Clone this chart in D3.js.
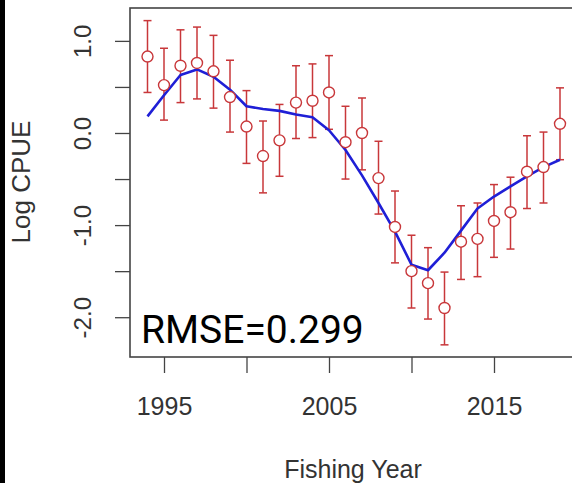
<!DOCTYPE html>
<html>
<head>
<meta charset="utf-8">
<script src="https://cdn.jsdelivr.net/npm/d3@7/dist/d3.min.js"></script>
<style>
  html, body { margin: 0; padding: 0; background: #fff; overflow: hidden; }
  svg { display: block; }
</style>
</head>
<body>
<script>
const years = [1994,1995,1996,1997,1998,1999,2000,2001,2002,2003,2004,2005,2006,2007,2008,2009,2010,2011,2012,2013,2014,2015,2016,2017,2018,2019];
const observed = [0.83,0.52,0.73,0.76,0.67,0.39,0.07,-0.25,-0.08,0.33,0.35,0.44,-0.10,0.00,-0.49,-1.02,-1.50,-1.63,-1.90,-1.18,-1.15,-0.955,-0.86,-0.42,-0.37,0.10];
const lower = [0.44,0.14,0.33,0.37,0.27,0.01,-0.33,-0.65,-0.47,-0.06,-0.05,0.04,-0.50,-0.40,-0.88,-1.41,-1.90,-2.02,-2.30,-1.59,-1.56,-1.35,-1.26,-0.82,-0.76,-0.29];
const upper = [1.22,0.92,1.12,1.15,1.06,0.79,0.46,0.13,0.31,0.73,0.75,0.84,0.29,0.38,-0.09,-0.63,-1.11,-1.245,-1.51,-0.79,-0.76,-0.56,-0.48,-0.03,0.01,0.49];
const fitted = [0.18,0.41,0.63,0.69,0.61,0.47,0.29,0.26,0.24,0.20,0.17,0.03,-0.185,-0.46,-0.76,-1.07,-1.43,-1.49,-1.30,-1.06,-0.82,-0.69,-0.58,-0.47,-0.37,-0.29];
const xTicks = [1995,2000,2005,2010,2015];
const xTickLabels = ["1995","","2005","","2015"];
const yTicks = [-2.0,-1.5,-1.0,-0.5,0.0,0.5,1.0];
const yTickLabels = ["-2.0","","-1.0","","0.0","","1.0"];
const rmseText = "RMSE=0.299";

const W = 572, H = 483;
const svg = d3.select("body").append("svg").attr("width", W).attr("height", H);

// black strip at left edge of the image
svg.append("rect").attr("x", 0).attr("y", 0).attr("width", 5).attr("height", H).attr("fill", "#000");

const plot = {left: 130, right: 577, top: 8, bottom: 357};
const x = d3.scaleLinear().domain([1993, 2020]).range([131, 576.5]);
const y = d3.scaleLinear().domain([-2.432, 1.357]).range([plot.bottom, plot.top]);

const axisColor = "#444";
const textColor = "#333";
const font = "'Liberation Sans', Arial, sans-serif";

// x axis
const xAxis = d3.axisBottom(x).tickValues(xTicks).tickSize(16).tickPadding(22)
  .tickFormat((d, i) => xTickLabels[i]);
const gx = svg.append("g").attr("transform", `translate(0,${plot.bottom})`).call(xAxis);
gx.select(".domain").remove();
gx.selectAll(".tick line").attr("stroke", axisColor).attr("stroke-width", 1.3);
gx.selectAll(".tick text").attr("fill", textColor).attr("font-family", font).attr("font-size", 25)
  .attr("dy", null).attr("y", 58);

// y axis
const yAxis = d3.axisLeft(y).tickValues(yTicks).tickSize(15).tickFormat((d, i) => yTickLabels[i]);
const gy = svg.append("g").attr("transform", `translate(${plot.left},0)`).call(yAxis);
gy.select(".domain").remove();
gy.selectAll(".tick line").attr("stroke", axisColor).attr("stroke-width", 1.3);
gy.selectAll(".tick text")
  .attr("fill", textColor).attr("font-family", font).attr("font-size", 24)
  .attr("x", null).attr("dy", null)
  .attr("text-anchor", "middle")
  .attr("transform", "translate(-39,0) rotate(-90)");

// plot box
svg.append("rect")
  .attr("x", plot.left).attr("y", plot.top)
  .attr("width", plot.right - plot.left).attr("height", plot.bottom - plot.top)
  .attr("fill", "none").attr("stroke", axisColor).attr("stroke-width", 1.6);

// axis titles
svg.append("text").attr("x", 353).attr("y", 478).attr("text-anchor", "middle")
  .attr("font-family", font).attr("font-size", 25).attr("fill", textColor).text("Fishing Year");
svg.append("text").attr("transform", "translate(30,182) rotate(-90)").attr("text-anchor", "middle")
  .attr("font-family", font).attr("font-size", 26).attr("fill", textColor).text("Log CPUE");

const data = years.map((yr, i) => ({yr, obs: observed[i], lo: lower[i], hi: upper[i], fit: fitted[i]}));
const red = "#c8373a";

// error bars
const eb = svg.append("g").attr("stroke", red).attr("stroke-width", 1.5).attr("fill", "none");
eb.selectAll("line.v").data(data).join("line").attr("class", "v")
  .attr("x1", d => x(d.yr)).attr("x2", d => x(d.yr))
  .attr("y1", d => y(d.lo)).attr("y2", d => y(d.hi));
eb.selectAll("line.t").data(data).join("line").attr("class", "t")
  .attr("x1", d => x(d.yr) - 4).attr("x2", d => x(d.yr) + 4)
  .attr("y1", d => y(d.hi)).attr("y2", d => y(d.hi));
eb.selectAll("line.b").data(data).join("line").attr("class", "b")
  .attr("x1", d => x(d.yr) - 4).attr("x2", d => x(d.yr) + 4)
  .attr("y1", d => y(d.lo)).attr("y2", d => y(d.lo));

// fitted line
svg.append("path").datum(data)
  .attr("fill", "none").attr("stroke", "#1f1fd6").attr("stroke-width", 2.6)
  .attr("stroke-linejoin", "round")
  .attr("d", d3.line().x(d => x(d.yr)).y(d => y(d.fit)));

// observed points
svg.append("g").selectAll("circle").data(data).join("circle")
  .attr("cx", d => x(d.yr)).attr("cy", d => y(d.obs)).attr("r", 5.5)
  .attr("fill", "#fff").attr("stroke", red).attr("stroke-width", 1.4);

// RMSE annotation
svg.append("text").attr("x", 141).attr("y", 343).attr("font-family", "Roboto, sans-serif")
  .attr("font-size", 39).attr("fill", "#000").text(rmseText);
</script>
</body>
</html>
